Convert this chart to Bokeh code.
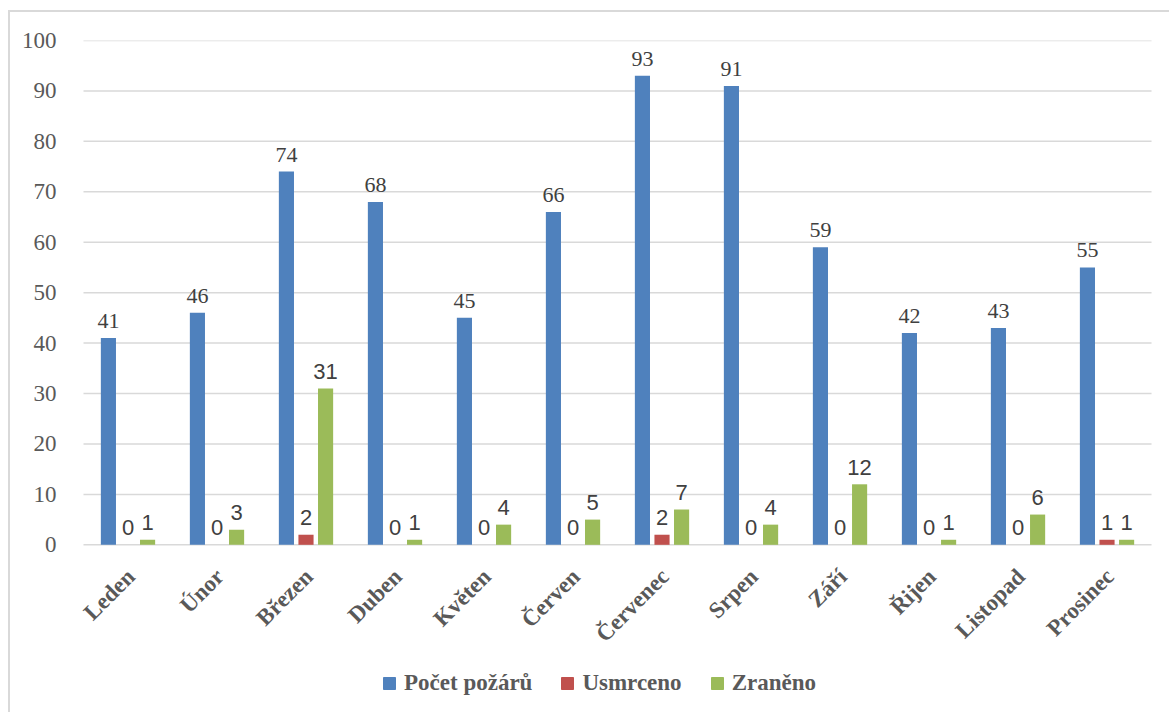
from bokeh.plotting import figure
from bokeh.models import ColumnDataSource, Range1d, Legend, LegendItem, FixedTicker
from bokeh.core.properties import value
from bokeh.embed import file_html
from bokeh.resources import INLINE
import math

months = ["Leden", "Únor", "Březen", "Duben", "Květen", "Červen",
          "Červenec", "Srpen", "Září", "Řijen", "Listopad", "Prosinec"]
pocet_pozaru = [41, 46, 74, 68, 45, 66, 93, 91, 59, 42, 43, 55]
usmrceno = [0, 0, 2, 0, 0, 0, 2, 0, 0, 0, 0, 1]
zraneno = [1, 3, 31, 1, 4, 5, 7, 4, 12, 1, 6, 1]
y_ticks = [0, 10, 20, 30, 40, 50, 60, 70, 80, 90, 100]

series_names = ["Počet požárů", "Usmrceno", "Zraněno"]
colors = ["#4F81BD", "#C0504D", "#9BBB59"]

idx = list(range(len(months)))
source = ColumnDataSource(data=dict(
    idx=idx,
    month=months,
    pocet=pocet_pozaru,
    usmrceno=usmrceno,
    zraneno=zraneno,
    pocet_txt=[str(v) for v in pocet_pozaru],
    usmrceno_txt=[str(v) for v in usmrceno],
    zraneno_txt=[str(v) for v in zraneno],
    base=[0] * len(months),
))

SERIF = "Liberation Serif"
SANS = "Liberation Sans"

# Months sit at 0..11 on a numeric x scale; the plot frame is a little wider
# than the category band and reaches the bottom edge, so the rotated month
# names and the legend are drawn inside it.
p = figure(
    x_range=Range1d(-0.646, 11.702),
    y_range=Range1d(-33.25, 100),
    width=1169, height=712,
    output_backend="svg", toolbar_location=None,
    x_axis_location=None,
    min_border_left=70, min_border_right=0,
    min_border_top=40, min_border_bottom=0,
)
p.outline_line_color = None
p.background_fill_alpha = 0
p.border_fill_alpha = 0
# thin chart-area frame along the left and top edges
p.styles = {
    "background": "linear-gradient(#d9d9d9, #d9d9d9) 8px 10px / 2px 702px no-repeat, "
                  "linear-gradient(#d9d9d9, #d9d9d9) 8px 10px / 1161px 2px no-repeat, white",
}

p.xgrid.grid_line_color = None
p.ygrid.grid_line_color = None

# horizontal gridlines across the category band (the zero line is the axis line)
grid_src = ColumnDataSource(data=dict(
    x0=[idx[0] - 0.5] * len(y_ticks),
    x1=[idx[-1] + 0.5] * len(y_ticks),
    y=y_ticks,
))
p.segment(x0="x0", x1="x1", y0="y", y1="y", source=grid_src,
          line_color="#d9d9d9", line_width=1.5)

# y axis
p.yaxis.ticker = FixedTicker(ticks=y_ticks)
p.yaxis.axis_line_color = None
p.yaxis.major_tick_line_color = None
p.yaxis.minor_tick_line_color = None
p.yaxis.major_label_standoff = 8
p.yaxis.major_label_text_font = SERIF
p.yaxis.major_label_text_font_size = "23px"
p.yaxis.major_label_text_color = "#595959"

offsets = [-0.22, 0.0, 0.22]
fields = ["pocet", "usmrceno", "zraneno"]
bar_width = 0.17
for fld, off, col in zip(fields, offsets, colors):
    src = ColumnDataSource(data=dict(
        x=[i + off for i in idx],
        top=source.data[fld],
        txt=source.data[fld + "_txt"],
    ))
    p.vbar(x="x", top="top", width=bar_width, source=src,
           fill_color=col, line_color=None)
    p.text(x="x", y="top", text="txt", source=src,
           text_align="center", text_baseline="alphabetic", y_offset=-17,
           text_font=value(SERIF if fld == "pocet" else SANS),
           text_font_size="22px", text_color="#404040")

# month names, rotated 45 degrees and ending just below each category
p.text(x="idx", y="base", text="month", source=source,
       angle=math.pi / 4, text_align="right", text_baseline="alphabetic",
       x_offset=3, y_offset=28,
       text_font=value(SERIF), text_font_style="bold", text_font_size="23px",
       text_color="#595959")

# legend swatches (hidden renderers; only their legend glyphs are shown)
swatches = []
for col in colors:
    r = p.scatter(x=[idx[0]], y=[0], marker="square", size=12,
                  fill_color=col, line_color=col)
    r.visible = False
    swatches.append(r)

legend = Legend(
    items=[LegendItem(label=n, renderers=[r]) for n, r in zip(series_names, swatches)],
    orientation="horizontal",
    location=(304, 14),
    glyph_width=30, glyph_height=30,
    label_standoff=-2, spacing=20, padding=0, margin=0,
    border_line_color=None, background_fill_alpha=0,
    inactive_fill_alpha=0,
    label_text_font=SERIF, label_text_font_style="bold",
    label_text_font_size="23px", label_text_color="#595959",
)
p.add_layout(legend, "center")

open("out.html", "w").write(file_html(p, INLINE))
